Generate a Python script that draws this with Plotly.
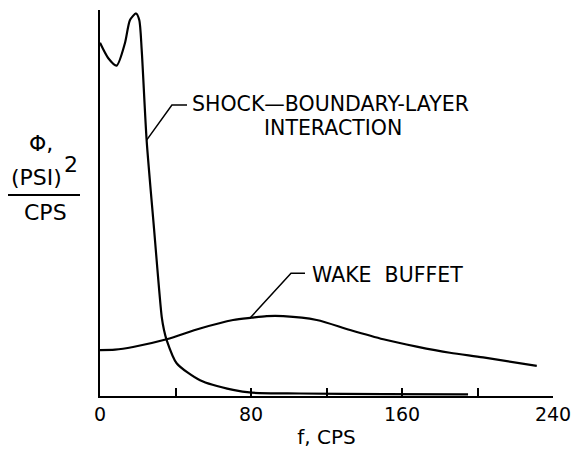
import plotly.graph_objects as go

# ---- data ----
shock_f = [0, 4.4, 8.8, 13.2, 15.9, 19.1, 20.8, 22.1, 24.7, 28.6, 32.7, 33.9, 35.3, 40.6, 53, 70.5, 80.4, 106, 150, 195]
shock_y = [9.15, 8.75, 8.56, 9.14, 9.74, 9.91, 9.74, 8.96, 6.63, 4.35, 2.05, 1.71, 1.45, 0.85, 0.41, 0.16, 0.085, 0.065, 0.05, 0.044]

wake_f = [0, 8, 17.5, 35.3, 53, 70.5, 80.4, 88.3, 97.1, 114.8, 132.5, 150.1, 167.8, 185.4, 203, 231.4]
wake_y = [1.19, 1.2, 1.27, 1.47, 1.75, 1.97, 2.03, 2.07, 2.07, 1.97, 1.71, 1.47, 1.28, 1.12, 1.0, 0.78]

tick_vals = [0, 80, 160, 240]
tick_text = ["0", "80", "160", "240"]

FONT = "DejaVu Sans"

fig = go.Figure()
fig.add_trace(go.Scatter(x=shock_f, y=shock_y, mode="lines",
                         line=dict(color="black", width=2.2, shape="spline", smoothing=0.7),
                         showlegend=False, hoverinfo="skip"))
fig.add_trace(go.Scatter(x=wake_f, y=wake_y, mode="lines",
                         line=dict(color="black", width=2.2, shape="spline", smoothing=0.8),
                         showlegend=False, hoverinfo="skip"))

# leader lines
fig.add_shape(type="path", path="M 24.7,6.63 L 38.1,7.54 L 46.1,7.54",
              line=dict(color="black", width=1.5), xref="x", yref="y")
fig.add_shape(type="path", path="M 79.5,2.02 L 101.2,3.18 L 108.6,3.18",
              line=dict(color="black", width=1.5), xref="x", yref="y")

# y label fraction bar
fig.add_shape(type="line", xref="paper", yref="paper",
              x0=(7 - 100) / 453, x1=(80 - 100) / 453, y0=(396 - 195) / 386, y1=(396 - 195) / 386,
              line=dict(color="black", width=2))

ann_font = dict(family=FONT, size=20.5, color="black")
lab_font = dict(family=FONT, size=22, color="black")
fig.add_annotation(x=47.7, y=(396 - 104) / 38.6, xref="x", yref="y", text="SHOCK\u2014BOUNDARY-LAYER",
                   showarrow=False, xanchor="left", yanchor="middle", font=ann_font)
fig.add_annotation(x=86.0, y=(396 - 128) / 38.6, xref="x", yref="y", text="INTERACTION",
                   showarrow=False, xanchor="left", yanchor="middle", font=ann_font)
fig.add_annotation(x=111.0, y=3.13, xref="x", yref="y", text="WAKE  BUFFET",
                   showarrow=False, xanchor="left", yanchor="middle", font=ann_font)

fig.add_annotation(x=(41 - 100) / 453, y=(396 - 143) / 386, xref="paper", yref="paper", text="\u03a6,",
                   showarrow=False, xanchor="center", yanchor="middle", font=lab_font)
fig.add_annotation(x=(36 - 100) / 453, y=(396 - 177) / 386, xref="paper", yref="paper", text="(PSI)",
                   showarrow=False, xanchor="center", yanchor="middle", font=lab_font)
fig.add_annotation(x=(71 - 100) / 453, y=(396 - 164) / 386, xref="paper", yref="paper", text="2",
                   showarrow=False, xanchor="center", yanchor="middle", font=lab_font)
fig.add_annotation(x=(45 - 100) / 453, y=(396 - 212) / 386, xref="paper", yref="paper", text="CPS",
                   showarrow=False, xanchor="center", yanchor="middle", font=lab_font)

# page body has an 8px default margin: shrink the figure so the plot area lands where it should
fig.update_layout(
    width=571, height=443,
    margin=dict(l=92, r=26, t=2, b=55, autoexpand=False),
    plot_bgcolor="white", paper_bgcolor="white",
    font=dict(family=FONT, size=19, color="black"),
    xaxis=dict(range=[0, 240], tickvals=tick_vals, ticktext=tick_text, automargin=False,
               ticks="inside", ticklen=8, tickwidth=1.5, tickcolor="black",
               minor=dict(dtick=40, tick0=0, ticks="inside", ticklen=8, tickwidth=1.5, tickcolor="black",
                          showgrid=False),
               showline=True, linecolor="black", linewidth=2,
               showgrid=False, zeroline=False,
               tickfont=dict(family=FONT, size=19, color="black"),
               title=dict(text="f, CPS", font=dict(family=FONT, size=20, color="black"), standoff=6)),
    yaxis=dict(range=[0, 10], showticklabels=False, ticks="", automargin=False,
               showline=True, linecolor="black", linewidth=2,
               showgrid=False, zeroline=False),
)

fig.write_html("out.html")
